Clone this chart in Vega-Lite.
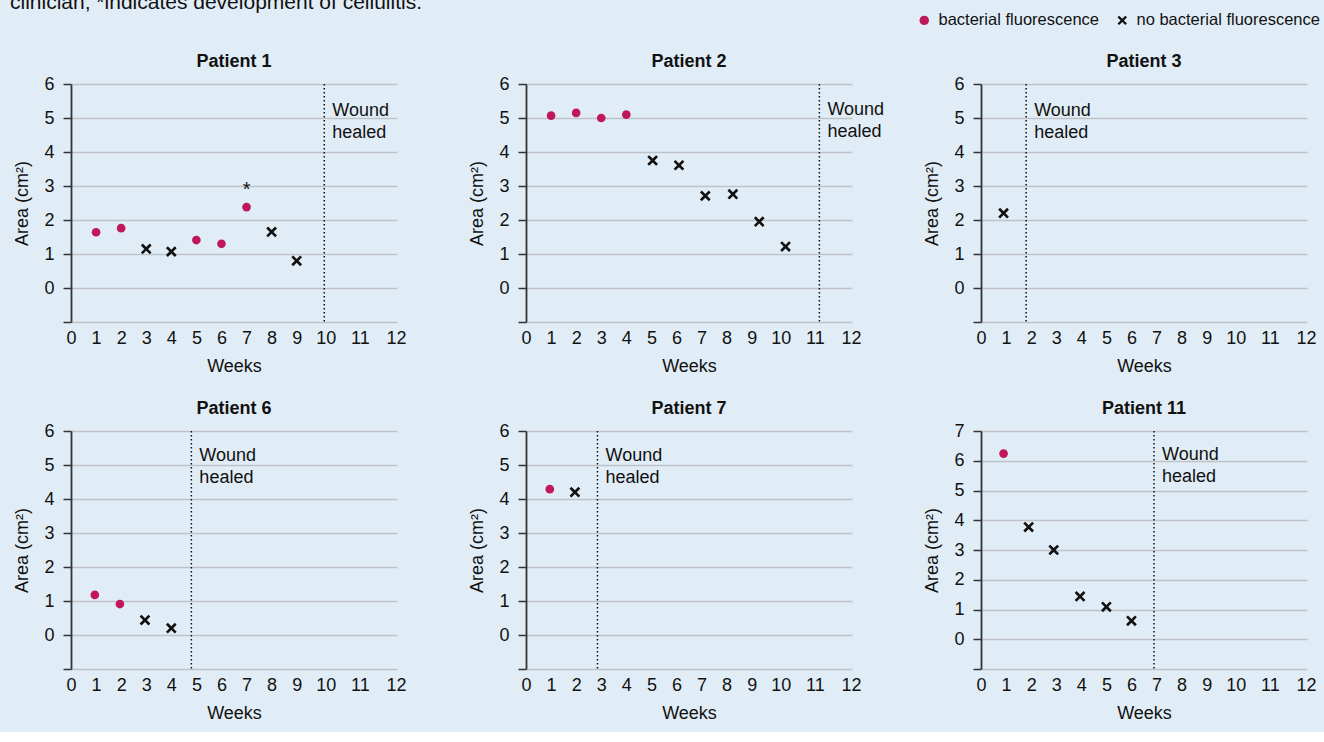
{
  "$schema": "https://vega.github.io/schema/vega-lite/v6.json",
  "background": "#e1edf6",
  "padding": {"left": 9, "top": -8, "right": 4, "bottom": 10},
  "title": {"text": "clinician; *indicates development of cellulitis.", "anchor": "start", "fontSize": 21, "fontWeight": "normal", "color": "#111111", "frame": "bounds", "offset": -1, "dx": -4},
  "datasets": {
    "pts": [
      {"patient": "Patient 1", "week": 1, "area": 1.64, "status": "bacterial fluorescence"},
      {"patient": "Patient 1", "week": 2, "area": 1.76, "status": "bacterial fluorescence"},
      {"patient": "Patient 1", "week": 3, "area": 1.15, "status": "no bacterial fluorescence"},
      {"patient": "Patient 1", "week": 4, "area": 1.07, "status": "no bacterial fluorescence"},
      {"patient": "Patient 1", "week": 5, "area": 1.41, "status": "bacterial fluorescence"},
      {"patient": "Patient 1", "week": 6, "area": 1.3, "status": "bacterial fluorescence"},
      {"patient": "Patient 1", "week": 7, "area": 2.38, "status": "bacterial fluorescence"},
      {"patient": "Patient 1", "week": 8, "area": 1.65, "status": "no bacterial fluorescence"},
      {"patient": "Patient 1", "week": 9, "area": 0.8, "status": "no bacterial fluorescence"},
      {"patient": "Patient 2", "week": 1, "area": 5.07, "status": "bacterial fluorescence"},
      {"patient": "Patient 2", "week": 2, "area": 5.15, "status": "bacterial fluorescence"},
      {"patient": "Patient 2", "week": 3, "area": 5.0, "status": "bacterial fluorescence"},
      {"patient": "Patient 2", "week": 4, "area": 5.1, "status": "bacterial fluorescence"},
      {"patient": "Patient 2", "week": 5.05, "area": 3.75, "status": "no bacterial fluorescence"},
      {"patient": "Patient 2", "week": 6.1, "area": 3.61, "status": "no bacterial fluorescence"},
      {"patient": "Patient 2", "week": 7.15, "area": 2.71, "status": "no bacterial fluorescence"},
      {"patient": "Patient 2", "week": 8.25, "area": 2.76, "status": "no bacterial fluorescence"},
      {"patient": "Patient 2", "week": 9.3, "area": 1.95, "status": "no bacterial fluorescence"},
      {"patient": "Patient 2", "week": 10.35, "area": 1.22, "status": "no bacterial fluorescence"},
      {"patient": "Patient 3", "week": 0.9, "area": 2.2, "status": "no bacterial fluorescence"},
      {"patient": "Patient 6", "week": 0.95, "area": 1.18, "status": "bacterial fluorescence"},
      {"patient": "Patient 6", "week": 1.95, "area": 0.91, "status": "bacterial fluorescence"},
      {"patient": "Patient 6", "week": 2.95, "area": 0.44, "status": "no bacterial fluorescence"},
      {"patient": "Patient 6", "week": 4.0, "area": 0.2, "status": "no bacterial fluorescence"},
      {"patient": "Patient 7", "week": 0.95, "area": 4.29, "status": "bacterial fluorescence"},
      {"patient": "Patient 7", "week": 1.95, "area": 4.2, "status": "no bacterial fluorescence"},
      {"patient": "Patient 11", "week": 0.9, "area": 6.24, "status": "bacterial fluorescence"},
      {"patient": "Patient 11", "week": 1.9, "area": 3.77, "status": "no bacterial fluorescence"},
      {"patient": "Patient 11", "week": 2.9, "area": 3.0, "status": "no bacterial fluorescence"},
      {"patient": "Patient 11", "week": 3.95, "area": 1.44, "status": "no bacterial fluorescence"},
      {"patient": "Patient 11", "week": 5.0, "area": 1.09, "status": "no bacterial fluorescence"},
      {"patient": "Patient 11", "week": 6.0, "area": 0.62, "status": "no bacterial fluorescence"}
    ],
    "healed": [
      {"patient": "Patient 1", "week": 10.1},
      {"patient": "Patient 2", "week": 11.7},
      {"patient": "Patient 3", "week": 1.8},
      {"patient": "Patient 6", "week": 4.8},
      {"patient": "Patient 7", "week": 2.85},
      {"patient": "Patient 11", "week": 6.9}
    ],
    "notes": [
      {"patient": "Patient 1", "week": 7, "area": 3.04, "note": "*"}
    ]
  },
  "columns": 3,
  "spacing": {"row": 109, "column": 129},
  "bounds": "flush",
  "concat": [
    {
      "width": 326, "height": 238, "title": "Patient 1",
      "layer": [
        {"data": {"name": "pts"}, "transform": [{"filter": "datum.patient === 'Patient 1'"}],
         "mark": {"type": "point", "filled": true, "opacity": 1},
         "encoding": {
           "x": {"field": "week", "type": "quantitative", "title": "Weeks", "scale": {"domain": [0, 13], "nice": false, "zero": false},
                 "axis": {"values": [0,1,2,3,4,5,6,7,8,9,10,11,12], "tickCount": 30, "format": "d", "labelOffset": {"condition": [{"test": "datum.value == 10", "value": 4}, {"test": "datum.value == 11", "value": 13}, {"test": "datum.value == 12", "value": 24}], "value": 0}}},
           "y": {"field": "area", "type": "quantitative", "title": "Area (cm²)", "scale": {"domain": [-1, 6], "nice": false, "zero": false},
                 "axis": {"values": [-1,0,1,2,3,4,5,6], "tickCount": 30, "format": "d", "labelExpr": "datum.value < 0 ? '' : datum.label"}},
           "color": {"field": "status", "type": "nominal", "title": null, "scale": {"domain": ["bacterial fluorescence", "no bacterial fluorescence"], "range": ["#c0175a", "#111111"]}},
           "shape": {"field": "status", "type": "nominal", "title": null, "scale": {"domain": ["bacterial fluorescence", "no bacterial fluorescence"], "range": ["circle", "M0,-0.35L0.65,-1L1,-0.65L0.35,0L1,0.65L0.65,1L0,0.35L-0.65,1L-1,0.65L-0.35,0L-1,-0.65L-0.65,-1Z"]}},
           "size": {"condition": {"test": "datum.status === 'no bacterial fluorescence'", "value": 115}, "value": 75}
         }},
        {"data": {"name": "notes"}, "transform": [{"filter": "datum.patient === 'Patient 1'"}],
         "mark": {"type": "text", "fontSize": 20, "color": "#111111", "baseline": "middle", "dy": 5},
         "encoding": {"x": {"field": "week", "type": "quantitative"}, "y": {"field": "area", "type": "quantitative"}, "text": {"field": "note"}}},
        {"data": {"name": "healed"}, "transform": [{"filter": "datum.patient === 'Patient 1'"}],
         "mark": {"type": "rule", "strokeDash": [1.5, 2.5], "strokeWidth": 1.5, "color": "#111111"},
         "encoding": {"x": {"field": "week", "type": "quantitative"}}},
        {"data": {"name": "healed"}, "transform": [{"filter": "datum.patient === 'Patient 1'"}],
         "mark": {"type": "text", "text": ["Wound", "healed"], "align": "left", "baseline": "top", "dx": 8, "fontSize": 18, "lineHeight": 21.7, "color": "#111111"},
         "encoding": {"x": {"field": "week", "type": "quantitative"}, "y": {"datum": 5.47, "type": "quantitative"}}}
      ]
    },
    {
      "width": 326, "height": 238, "title": "Patient 2",
      "layer": [
        {"data": {"name": "pts"}, "transform": [{"filter": "datum.patient === 'Patient 2'"}],
         "mark": {"type": "point", "filled": true, "opacity": 1},
         "encoding": {
           "x": {"field": "week", "type": "quantitative", "title": "Weeks", "scale": {"domain": [0, 13], "nice": false, "zero": false},
                 "axis": {"values": [0,1,2,3,4,5,6,7,8,9,10,11,12], "tickCount": 30, "format": "d", "labelOffset": {"condition": [{"test": "datum.value == 10", "value": 4}, {"test": "datum.value == 11", "value": 13}, {"test": "datum.value == 12", "value": 24}], "value": 0}}},
           "y": {"field": "area", "type": "quantitative", "title": "Area (cm²)", "scale": {"domain": [-1, 6], "nice": false, "zero": false},
                 "axis": {"values": [-1,0,1,2,3,4,5,6], "tickCount": 30, "format": "d", "labelExpr": "datum.value < 0 ? '' : datum.label"}},
           "color": {"field": "status", "type": "nominal", "title": null, "scale": {"domain": ["bacterial fluorescence", "no bacterial fluorescence"], "range": ["#c0175a", "#111111"]}},
           "shape": {"field": "status", "type": "nominal", "title": null, "scale": {"domain": ["bacterial fluorescence", "no bacterial fluorescence"], "range": ["circle", "M0,-0.35L0.65,-1L1,-0.65L0.35,0L1,0.65L0.65,1L0,0.35L-0.65,1L-1,0.65L-0.35,0L-1,-0.65L-0.65,-1Z"]}},
           "size": {"condition": {"test": "datum.status === 'no bacterial fluorescence'", "value": 115}, "value": 75}
         }},
        {"data": {"name": "healed"}, "transform": [{"filter": "datum.patient === 'Patient 2'"}],
         "mark": {"type": "rule", "strokeDash": [1.5, 2.5], "strokeWidth": 1.5, "color": "#111111"},
         "encoding": {"x": {"field": "week", "type": "quantitative"}}},
        {"data": {"name": "healed"}, "transform": [{"filter": "datum.patient === 'Patient 2'"}],
         "mark": {"type": "text", "text": ["Wound", "healed"], "align": "left", "baseline": "top", "dx": 8, "fontSize": 18, "lineHeight": 21.7, "color": "#111111"},
         "encoding": {"x": {"field": "week", "type": "quantitative"}, "y": {"datum": 5.5, "type": "quantitative"}}}
      ]
    },
    {
      "width": 326, "height": 238, "title": "Patient 3",
      "layer": [
        {"data": {"name": "pts"}, "transform": [{"filter": "datum.patient === 'Patient 3'"}],
         "mark": {"type": "point", "filled": true, "opacity": 1},
         "encoding": {
           "x": {"field": "week", "type": "quantitative", "title": "Weeks", "scale": {"domain": [0, 13], "nice": false, "zero": false},
                 "axis": {"values": [0,1,2,3,4,5,6,7,8,9,10,11,12], "tickCount": 30, "format": "d", "labelOffset": {"condition": [{"test": "datum.value == 10", "value": 4}, {"test": "datum.value == 11", "value": 13}, {"test": "datum.value == 12", "value": 24}], "value": 0}}},
           "y": {"field": "area", "type": "quantitative", "title": "Area (cm²)", "scale": {"domain": [-1, 6], "nice": false, "zero": false},
                 "axis": {"values": [-1,0,1,2,3,4,5,6], "tickCount": 30, "format": "d", "labelExpr": "datum.value < 0 ? '' : datum.label"}},
           "color": {"field": "status", "type": "nominal", "title": null, "scale": {"domain": ["bacterial fluorescence", "no bacterial fluorescence"], "range": ["#c0175a", "#111111"]}},
           "shape": {"field": "status", "type": "nominal", "title": null, "scale": {"domain": ["bacterial fluorescence", "no bacterial fluorescence"], "range": ["circle", "M0,-0.35L0.65,-1L1,-0.65L0.35,0L1,0.65L0.65,1L0,0.35L-0.65,1L-1,0.65L-0.35,0L-1,-0.65L-0.65,-1Z"]}},
           "size": {"condition": {"test": "datum.status === 'no bacterial fluorescence'", "value": 115}, "value": 75}
         }},
        {"data": {"name": "healed"}, "transform": [{"filter": "datum.patient === 'Patient 3'"}],
         "mark": {"type": "rule", "strokeDash": [1.5, 2.5], "strokeWidth": 1.5, "color": "#111111"},
         "encoding": {"x": {"field": "week", "type": "quantitative"}}},
        {"data": {"name": "healed"}, "transform": [{"filter": "datum.patient === 'Patient 3'"}],
         "mark": {"type": "text", "text": ["Wound", "healed"], "align": "left", "baseline": "top", "dx": 8, "fontSize": 18, "lineHeight": 21.7, "color": "#111111"},
         "encoding": {"x": {"field": "week", "type": "quantitative"}, "y": {"datum": 5.47, "type": "quantitative"}}}
      ]
    },
    {
      "width": 326, "height": 238, "title": "Patient 6",
      "layer": [
        {"data": {"name": "pts"}, "transform": [{"filter": "datum.patient === 'Patient 6'"}],
         "mark": {"type": "point", "filled": true, "opacity": 1},
         "encoding": {
           "x": {"field": "week", "type": "quantitative", "title": "Weeks", "scale": {"domain": [0, 13], "nice": false, "zero": false},
                 "axis": {"values": [0,1,2,3,4,5,6,7,8,9,10,11,12], "tickCount": 30, "format": "d", "labelOffset": {"condition": [{"test": "datum.value == 10", "value": 4}, {"test": "datum.value == 11", "value": 13}, {"test": "datum.value == 12", "value": 24}], "value": 0}}},
           "y": {"field": "area", "type": "quantitative", "title": "Area (cm²)", "scale": {"domain": [-1, 6], "nice": false, "zero": false},
                 "axis": {"values": [-1,0,1,2,3,4,5,6], "tickCount": 30, "format": "d", "labelExpr": "datum.value < 0 ? '' : datum.label"}},
           "color": {"field": "status", "type": "nominal", "title": null, "scale": {"domain": ["bacterial fluorescence", "no bacterial fluorescence"], "range": ["#c0175a", "#111111"]}},
           "shape": {"field": "status", "type": "nominal", "title": null, "scale": {"domain": ["bacterial fluorescence", "no bacterial fluorescence"], "range": ["circle", "M0,-0.35L0.65,-1L1,-0.65L0.35,0L1,0.65L0.65,1L0,0.35L-0.65,1L-1,0.65L-0.35,0L-1,-0.65L-0.65,-1Z"]}},
           "size": {"condition": {"test": "datum.status === 'no bacterial fluorescence'", "value": 115}, "value": 75}
         }},
        {"data": {"name": "healed"}, "transform": [{"filter": "datum.patient === 'Patient 6'"}],
         "mark": {"type": "rule", "strokeDash": [1.5, 2.5], "strokeWidth": 1.5, "color": "#111111"},
         "encoding": {"x": {"field": "week", "type": "quantitative"}}},
        {"data": {"name": "healed"}, "transform": [{"filter": "datum.patient === 'Patient 6'"}],
         "mark": {"type": "text", "text": ["Wound", "healed"], "align": "left", "baseline": "top", "dx": 8, "fontSize": 18, "lineHeight": 21.7, "color": "#111111"},
         "encoding": {"x": {"field": "week", "type": "quantitative"}, "y": {"datum": 5.53, "type": "quantitative"}}}
      ]
    },
    {
      "width": 326, "height": 238, "title": "Patient 7",
      "layer": [
        {"data": {"name": "pts"}, "transform": [{"filter": "datum.patient === 'Patient 7'"}],
         "mark": {"type": "point", "filled": true, "opacity": 1},
         "encoding": {
           "x": {"field": "week", "type": "quantitative", "title": "Weeks", "scale": {"domain": [0, 13], "nice": false, "zero": false},
                 "axis": {"values": [0,1,2,3,4,5,6,7,8,9,10,11,12], "tickCount": 30, "format": "d", "labelOffset": {"condition": [{"test": "datum.value == 10", "value": 4}, {"test": "datum.value == 11", "value": 13}, {"test": "datum.value == 12", "value": 24}], "value": 0}}},
           "y": {"field": "area", "type": "quantitative", "title": "Area (cm²)", "scale": {"domain": [-1, 6], "nice": false, "zero": false},
                 "axis": {"values": [-1,0,1,2,3,4,5,6], "tickCount": 30, "format": "d", "labelExpr": "datum.value < 0 ? '' : datum.label"}},
           "color": {"field": "status", "type": "nominal", "title": null, "scale": {"domain": ["bacterial fluorescence", "no bacterial fluorescence"], "range": ["#c0175a", "#111111"]}},
           "shape": {"field": "status", "type": "nominal", "title": null, "scale": {"domain": ["bacterial fluorescence", "no bacterial fluorescence"], "range": ["circle", "M0,-0.35L0.65,-1L1,-0.65L0.35,0L1,0.65L0.65,1L0,0.35L-0.65,1L-1,0.65L-0.35,0L-1,-0.65L-0.65,-1Z"]}},
           "size": {"condition": {"test": "datum.status === 'no bacterial fluorescence'", "value": 115}, "value": 75}
         }},
        {"data": {"name": "healed"}, "transform": [{"filter": "datum.patient === 'Patient 7'"}],
         "mark": {"type": "rule", "strokeDash": [1.5, 2.5], "strokeWidth": 1.5, "color": "#111111"},
         "encoding": {"x": {"field": "week", "type": "quantitative"}}},
        {"data": {"name": "healed"}, "transform": [{"filter": "datum.patient === 'Patient 7'"}],
         "mark": {"type": "text", "text": ["Wound", "healed"], "align": "left", "baseline": "top", "dx": 8, "fontSize": 18, "lineHeight": 21.7, "color": "#111111"},
         "encoding": {"x": {"field": "week", "type": "quantitative"}, "y": {"datum": 5.53, "type": "quantitative"}}}
      ]
    },
    {
      "width": 326, "height": 238, "title": "Patient 11",
      "layer": [
        {"data": {"name": "pts"}, "transform": [{"filter": "datum.patient === 'Patient 11'"}],
         "mark": {"type": "point", "filled": true, "opacity": 1},
         "encoding": {
           "x": {"field": "week", "type": "quantitative", "title": "Weeks", "scale": {"domain": [0, 13], "nice": false, "zero": false},
                 "axis": {"values": [0,1,2,3,4,5,6,7,8,9,10,11,12], "tickCount": 30, "format": "d", "labelOffset": {"condition": [{"test": "datum.value == 10", "value": 4}, {"test": "datum.value == 11", "value": 13}, {"test": "datum.value == 12", "value": 24}], "value": 0}}},
           "y": {"field": "area", "type": "quantitative", "title": "Area (cm²)", "scale": {"domain": [-1, 7], "nice": false, "zero": false},
                 "axis": {"values": [-1,0,1,2,3,4,5,6,7], "tickCount": 30, "format": "d", "labelExpr": "datum.value < 0 ? '' : datum.label"}},
           "color": {"field": "status", "type": "nominal", "title": null, "scale": {"domain": ["bacterial fluorescence", "no bacterial fluorescence"], "range": ["#c0175a", "#111111"]}},
           "shape": {"field": "status", "type": "nominal", "title": null, "scale": {"domain": ["bacterial fluorescence", "no bacterial fluorescence"], "range": ["circle", "M0,-0.35L0.65,-1L1,-0.65L0.35,0L1,0.65L0.65,1L0,0.35L-0.65,1L-1,0.65L-0.35,0L-1,-0.65L-0.65,-1Z"]}},
           "size": {"condition": {"test": "datum.status === 'no bacterial fluorescence'", "value": 115}, "value": 75}
         }},
        {"data": {"name": "healed"}, "transform": [{"filter": "datum.patient === 'Patient 11'"}],
         "mark": {"type": "rule", "strokeDash": [1.5, 2.5], "strokeWidth": 1.5, "color": "#111111"},
         "encoding": {"x": {"field": "week", "type": "quantitative"}}},
        {"data": {"name": "healed"}, "transform": [{"filter": "datum.patient === 'Patient 11'"}],
         "mark": {"type": "text", "text": ["Wound", "healed"], "align": "left", "baseline": "top", "dx": 8, "fontSize": 18, "lineHeight": 21.7, "color": "#111111"},
         "encoding": {"x": {"field": "week", "type": "quantitative"}, "y": {"datum": 6.48, "type": "quantitative"}}}
      ]
    }
  ],
  "config": {
    "font": "Liberation Sans",
    "view": {"stroke": null},
    "title": {"fontSize": 18, "fontWeight": "bold", "color": "#111111", "offset": 4},
    "axis": {"labelFontSize": 18, "labelColor": "#111111", "titleFontSize": 18, "titleFontWeight": "normal", "titleColor": "#111111", "labelOverlap": false},
    "axisY": {"domain": true, "domainColor": "#333333", "domainWidth": 1.8, "ticks": true, "tickColor": "#333333", "tickSize": 8, "tickWidth": 1.5, "grid": true, "gridColor": "#bfc3c7", "gridWidth": 1.5, "labelPadding": 9, "titlePadding": 12},
    "axisX": {"domain": false, "ticks": false, "tickSize": 0, "grid": false, "labelPadding": 7, "titlePadding": 10, "labelFlush": false},
    "legend": {"orient": "none", "direction": "horizontal", "legendX": 845, "legendY": -72, "labelFontSize": 16.5, "labelColor": "#111111", "labelLimit": 400, "symbolSize": 90, "columnPadding": 14, "labelOffset": 6, "symbolStrokeWidth": 0}
  }
}
